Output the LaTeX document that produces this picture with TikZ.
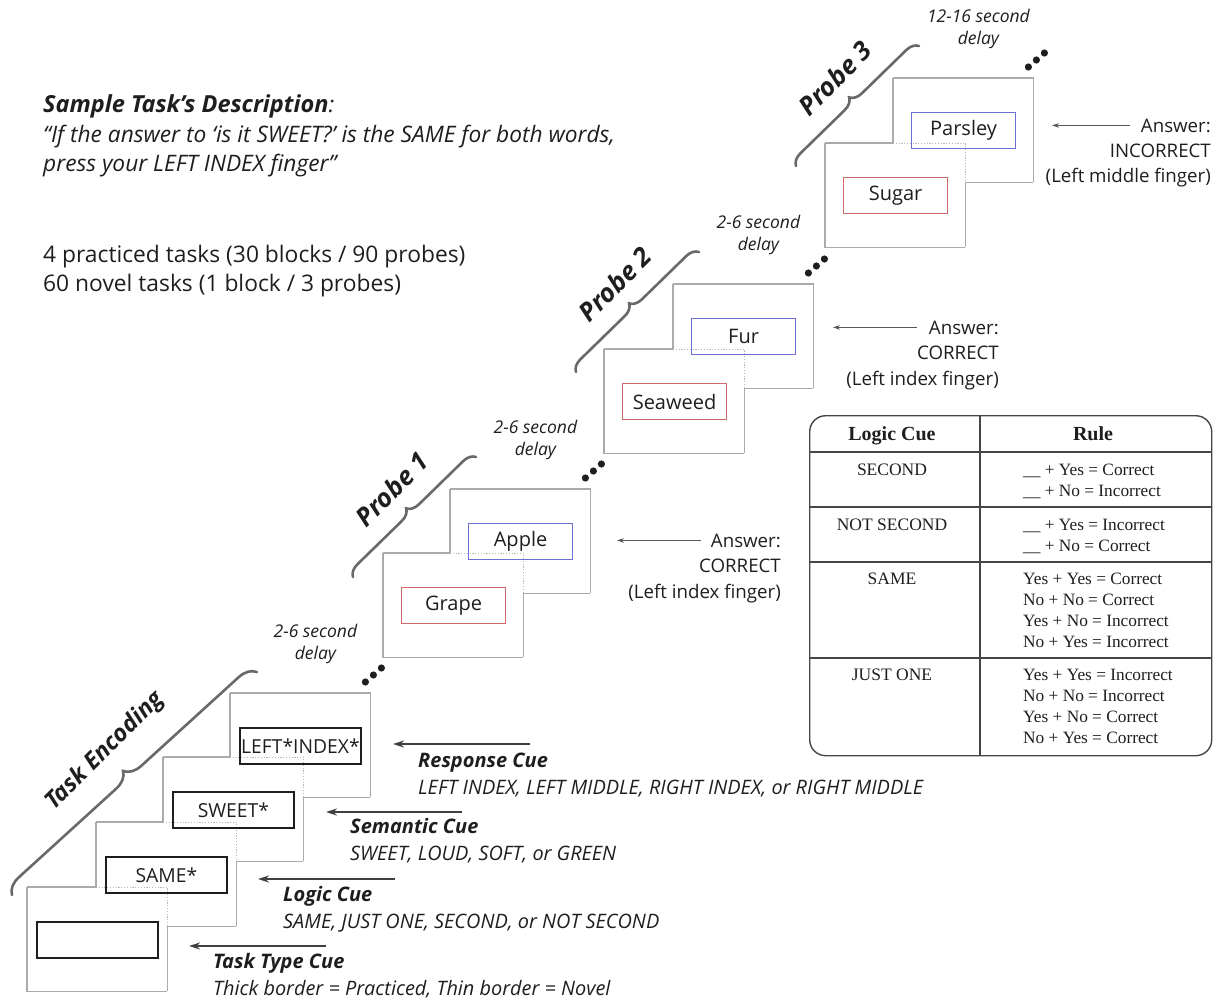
\documentclass[tikz,border=0pt]{standalone}
\usepackage{fontspec}
\setmainfont{Open Sans}
\newfontfamily\tabfont{Liberation Serif}
\usetikzlibrary{arrows.meta,decorations.pathreplacing}

\definecolor{ink}{RGB}{30,30,30}
\definecolor{framegray}{RGB}{170,170,170}
\definecolor{hidgray}{RGB}{185,185,185}
\definecolor{bracegray}{RGB}{105,105,105}
\definecolor{wordred}{RGB}{210,105,105}
\definecolor{wordblue}{RGB}{110,110,215}
\definecolor{tabline}{RGB}{70,70,70}

\newcommand\fsz[1]{\fontsize{#1}{#1}\selectfont}

% outline pieces of a screen: a screen in front of another one shows its
% covered corner dotted; a screen behind another loses the covered part
\newcommand\backedges[2]{% #1 screen, #2 the screen behind it
  \draw[frameline] (#1.north west) -- (#2.west |- #1.north);
  \draw[hiddenline] (#2.west |- #1.north) -- (#1.north east) -- (#1.east |- #2.south);
  \draw[frameline] (#1.east |- #2.south) -- (#1.south east);}
\newcommand\openback[1]{%
  \draw[frameline] (#1.north west) -- (#1.north east) -- (#1.south east);}
\newcommand\frontedges[2]{% #1 screen, #2 the screen in front of it
  \draw[frameline] (#1.north west) -- (#1.west |- #2.north);
  \draw[frameline] (#1.south east) -- (#2.east |- #1.south);}
\newcommand\openfront[1]{%
  \draw[frameline] (#1.north west) -- (#1.south west) -- (#1.south east);}

\begin{document}
\begin{tikzpicture}[x=1pt,y=-1pt,
  every node/.style={inner sep=0pt, text=ink},
  screen/.style={draw=none, minimum width=140pt, minimum height=104pt, anchor=north west},
  frameline/.style={draw=framegray, line width=1.1pt},
  hiddenline/.style={draw=hidgray, line width=0.9pt, dash pattern=on 1.2pt off 1.6pt},
  cuebox/.style={draw=ink, line width=1.8pt, minimum width=121pt, minimum height=36pt,
    anchor=north west, font=\fsz{19.3}},
  wordbox/.style={line width=1.1pt, minimum width=104pt, minimum height=36pt,
    anchor=north west, font=\fsz{20}},
  front word/.style={wordbox, draw=wordred},
  back word/.style={wordbox, draw=wordblue},
  plain/.style={font=\fsz{22.8}, anchor=base west},
  quote/.style={font=\fsz{22.7}\itshape, anchor=base west},
  cuehead/.style={font=\fsz{20}\bfseries\itshape, anchor=base west},
  cuedesc/.style={font=\fsz{19.9}\itshape, anchor=base west},
  delaytext/.style={font=\fsz{17.5}\itshape, anchor=base},
  answer/.style={font=\fsz{18.7}, anchor=base east},
  stagelabel/.style={font=\fsz{25.8}\bfseries\itshape, rotate=45},
  tabhead/.style={font=\tabfont\fsz{20}\bfseries, anchor=base},
  tabcue/.style={font=\tabfont\fsz{17.5}, anchor=base},
  tabrule/.style={font=\tabfont\fsz{17.3}, anchor=base west},
  cuearrow/.style={draw=ink!85, line width=1.6pt, -{Stealth[length=11pt,width=7pt]}},
  ansarrow/.style={draw=ink!75, line width=0.8pt, -{Stealth[length=7pt,width=4.5pt]}},
  bracestyle/.style={draw=bracegray, line width=2.6pt, line cap=round, decorate,
    decoration={brace, amplitude=#1}},
  tabgrid/.style={draw=tabline, line width=1.4pt}]

\useasboundingbox (0,0) rectangle (1217,1001);

% ---------------- sample task description ----------------
\node[quote] (desc) at (43,112) {{\fsz{23.5}\bfseries Sample Task’s Description}:};
\node[quote] (q1) at (43,142) {“If the answer to ‘is it SWEET?’ is the SAME for both words,};
\node[quote] (q2) at (43,171) {press your LEFT INDEX finger”};
\node[plain] (n1) at (43,262) {4 practiced tasks (30 blocks / 90 probes)};
\node[plain] (n2) at (43,291) {60 novel tasks (1 block / 3 probes)};

% ---------------- task encoding screens ----------------
\node[screen] (t1) at (27,887) {};
\node[screen] (t2) at (96,822) {};
\node[screen] (t3) at (163,757) {};
\node[screen] (t4) at (230,693) {};
\openfront{t1} \backedges{t1}{t2}
\frontedges{t2}{t1} \backedges{t2}{t3}
\frontedges{t3}{t2} \backedges{t3}{t4}
\frontedges{t4}{t3} \openback{t4}
\node[cuebox] (c1) at ([shift={(9,34)}]t1.north west) {};
\node[cuebox] (c2) at ([shift={(9,34)}]t2.north west) {SAME*};
\node[cuebox] (c3) at ([shift={(9,34)}]t3.north west) {SWEET*};
\node[cuebox] (c4) at ([shift={(9,34)}]t4.north west) {LEFT*INDEX*};

% brace and label
\coordinate (bTa) at (12,895);
\coordinate (bTb) at (257,672);
\draw[bracestyle=17pt] (bTa) -- (bTb);
\node[stagelabel, font=\fsz{23.7}\bfseries\itshape] (lT) at (105,751) {Task Encoding};

% cue arrows and captions
\coordinate (rTip) at (393,744);  \coordinate (rTail) at (530,744);
\coordinate (sTip) at (326,812);  \coordinate (sTail) at (462,812);
\coordinate (lTip) at (258,879);  \coordinate (lTail) at (395,879);
\coordinate (kTip) at (189,946);  \coordinate (kTail) at (326,946);
\draw[cuearrow] (rTail) -- (rTip);
\draw[cuearrow] (sTail) -- (sTip);
\draw[cuearrow] (lTail) -- (lTip);
\draw[cuearrow] (kTail) -- (kTip);
\node[cuehead] (rh) at (418,767) {Response Cue};
\node[cuedesc] (rd) at (418,794) {LEFT INDEX, LEFT MIDDLE, RIGHT INDEX, or RIGHT MIDDLE};
\node[cuehead] (sh) at (350,833) {Semantic Cue};
\node[cuedesc] (sd) at (350,860) {SWEET, LOUD, SOFT, or GREEN};
\node[cuehead] (lh) at (283,901) {Logic Cue};
\node[cuedesc] (ld) at (283,928) {SAME, JUST ONE, SECOND, or NOT SECOND};
\node[cuehead] (kh) at (213,968) {Task Type Cue};
\node[cuedesc] (kd) at (213,995) {Thick border = Practiced, Thin border = Novel};

% ---------------- probes ----------------
\node[screen] (p1a) at (383,553) {};
\node[screen] (p1b) at (450,489) {};
\node[screen] (p2a) at (604,349) {};
\node[screen] (p2b) at (673,284) {};
\node[screen] (p3a) at (825,143) {};
\node[screen] (p3b) at (893,78) {};
\foreach \f/\b in {p1a/p1b,p2a/p2b,p3a/p3b}{
  \openfront{\f} \backedges{\f}{\b}
  \frontedges{\b}{\f} \openback{\b}
}
\node[front word] (w1a) at ([shift={(18,34)}]p1a.north west) {Grape};
\node[back word]  (w1b) at ([shift={(18,34)}]p1b.north west) {Apple};
\node[front word] (w2a) at ([shift={(18,34)}]p2a.north west) {Seaweed};
\node[back word]  (w2b) at ([shift={(18,34)}]p2b.north west) {Fur};
\node[front word] (w3a) at ([shift={(18,34)}]p3a.north west) {Sugar};
\node[back word]  (w3b) at ([shift={(18,34)}]p3b.north west) {Parsley};

% braces and labels
\foreach \b/\n in {p1b/1,p2b/2,p3b/3}{
  \coordinate (br\n a) at ([shift={(-97,88)}]\b.north west);
  \coordinate (br\n b) at ([shift={(26,-32)}]\b.north west);
  \draw[bracestyle=12pt] (br\n a) -- (br\n b);
  \node[stagelabel] (lp\n) at ([shift={(-58,0)}]\b.north west) {Probe \n};
}

% delays and continuation dots
\foreach \s/\t in {t4/2-6,p1b/2-6,p2b/2-6,p3b/12-16}{
  \node[delaytext] (d\s-1) at ([shift={(-55,-56)}]\s.north east) {\t\ second};
  \node[delaytext] (d\s-2) at ([shift={(-55,-34)}]\s.north east) {delay};
  \fill[ink] ([shift={(-5,-11)}]\s.north east) circle[radius=3.6pt];
  \fill[ink] ([shift={(3,-18)}]\s.north east) circle[radius=3.6pt];
  \fill[ink] ([shift={(11,-25)}]\s.north east) circle[radius=3.6pt];
}

% answers
\node[answer] (a1a) at (781,547) {Answer:};
\node[answer] (a1b) at (781,572) {CORRECT};
\node[answer] (a1c) at (781,598) {(Left index finger)};
\coordinate (a1tip) at (617,540);
\draw[ansarrow] ([xshift=-10pt]a1a.west) -- (a1tip |- a1a.west);

\node[answer] (a2a) at (999,334) {Answer:};
\node[answer] (a2b) at (999,359) {CORRECT};
\node[answer] (a2c) at (999,385) {(Left index finger)};
\coordinate (a2tip) at (833,327);
\draw[ansarrow] ([xshift=-12pt]a2a.west) -- (a2tip |- a2a.west);

\node[answer] (a3a) at (1211,132) {Answer:};
\node[answer] (a3b) at (1211,157) {INCORRECT};
\node[answer] (a3c) at (1211,182) {(Left middle finger)};
\coordinate (a3tip) at (1052,125);
\draw[ansarrow] ([xshift=-11pt]a3a.west) -- (a3tip |- a3a.west);

% ---------------- logic cue table ----------------
\node[tabgrid, rounded corners=16pt, minimum width=402pt, minimum height=340pt,
      anchor=north west] (tbl) at (809,415) {};
\coordinate (colsep) at (980,415);
\coordinate (r1) at (809,452);
\coordinate (r2) at (809,507);
\coordinate (r3) at (809,562);
\coordinate (r4) at (809,658);
\draw[tabgrid] (colsep |- tbl.north) -- (colsep |- tbl.south);
\foreach \r in {r1,r2,r3,r4}{ \draw[tabgrid] (\r) -- (\r -| tbl.east); }

\node[tabhead] (hc) at (892,440) {Logic Cue};
\node[tabhead] (hr) at (1093,440) {Rule};
\node[tabcue] (c-sec)  at (892,475) {SECOND};
\node[tabcue] (c-nsec) at (892,530) {NOT SECOND};
\node[tabcue] (c-same) at (892,584) {SAME};
\node[tabcue] (c-one)  at (892,680) {JUST ONE};
\node[tabrule] (r-sec1)  at (1023,475) {\_\_ + Yes = Correct};
\node[tabrule] (r-sec2)  at (1023,496) {\_\_ + No = Incorrect};
\node[tabrule] (r-nsec1) at (1023,530) {\_\_ + Yes = Incorrect};
\node[tabrule] (r-nsec2) at (1023,551) {\_\_ + No = Correct};
\node[tabrule] (r-same1) at (1023,584) {Yes + Yes = Correct};
\node[tabrule] (r-same2) at (1023,605) {No + No = Correct};
\node[tabrule] (r-same3) at (1023,626) {Yes + No = Incorrect};
\node[tabrule] (r-same4) at (1023,647) {No + Yes = Incorrect};
\node[tabrule] (r-one1)  at (1023,680) {Yes + Yes = Incorrect};
\node[tabrule] (r-one2)  at (1023,701) {No + No = Incorrect};
\node[tabrule] (r-one3)  at (1023,722) {Yes + No = Correct};
\node[tabrule] (r-one4)  at (1023,743) {No + Yes = Correct};
\end{tikzpicture}
\end{document}
